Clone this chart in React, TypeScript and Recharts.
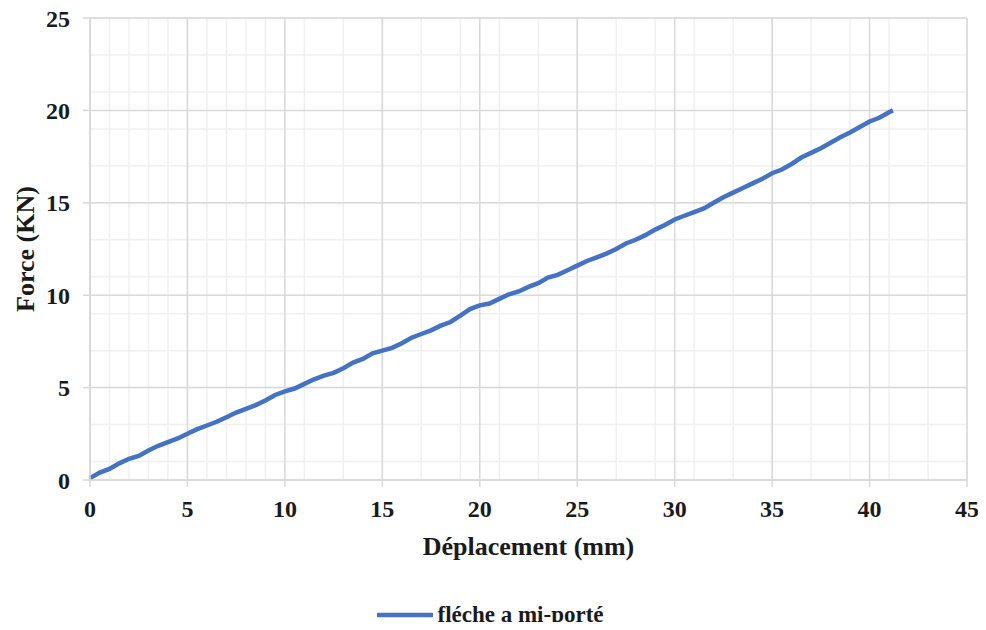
import { LineChart, Line, XAxis, YAxis, CartesianGrid, Legend } from "recharts";

const deplacement = [
  0, 0.5, 1, 1.5, 2, 2.5, 3, 3.5, 4, 4.5, 5, 5.5, 6, 6.5, 7, 7.5, 8, 8.5, 9,
  9.5, 10, 10.5, 11, 11.5, 12, 12.5, 13, 13.5, 14, 14.5, 15, 15.5, 16, 16.5,
  17, 17.5, 18, 18.5, 19, 19.5, 20, 20.5, 21, 21.5, 22, 22.5, 23, 23.5, 24,
  24.5, 25, 25.5, 26, 26.5, 27, 27.5, 28, 28.5, 29, 29.5, 30, 30.5, 31, 31.5,
  32, 32.5, 33, 33.5, 34, 34.5, 35, 35.5, 36, 36.5, 37, 37.5, 38, 38.5, 39,
  39.5, 40, 40.5, 41, 41.2,
];
const force = [
  0.1, 0.4, 0.6, 0.9, 1.15, 1.3, 1.6, 1.85, 2.05, 2.25, 2.5, 2.75, 2.95, 3.15,
  3.4, 3.65, 3.85, 4.05, 4.3, 4.6, 4.8, 4.95, 5.2, 5.45, 5.65, 5.8, 6.05,
  6.35, 6.55, 6.85, 7.0, 7.15, 7.4, 7.7, 7.9, 8.1, 8.35, 8.55, 8.9, 9.25,
  9.45, 9.55, 9.8, 10.05, 10.2, 10.45, 10.65, 10.95, 11.1, 11.35, 11.6, 11.85,
  12.05, 12.25, 12.5, 12.8, 13.0, 13.25, 13.55, 13.8, 14.1, 14.3, 14.5, 14.7,
  15.0, 15.3, 15.55, 15.8, 16.05, 16.3, 16.6, 16.8, 17.1, 17.45, 17.7, 17.95,
  18.25, 18.55, 18.8, 19.1, 19.4, 19.6, 19.9, 20.0,
];
const xTicks = [0, 5, 10, 15, 20, 25, 30, 35, 40, 45];
const yTicks = [0, 5, 10, 15, 20, 25];
const xMinor = Array.from({ length: 46 }, (_, i) => i);
const yMinor = Array.from({ length: 26 }, (_, i) => i);

const data = deplacement.map((x, i) => ({ x, f: force[i] }));

const FONT = '"Liberation Serif", "Times New Roman", serif';
const BLUE = "#4472C4";

function LegendBox() {
  return (
    <div
      style={{
        display: "flex",
        justifyContent: "center",
        alignItems: "center",
        height: 30,
        paddingLeft: 14,
        fontFamily: FONT,
        fontWeight: "bold",
        fontSize: 23,
        color: "#1a1a1a",
      }}
    >
      <svg width={56} height={10} style={{ marginRight: 4 }}>
        <line x1={1} y1={5} x2={55} y2={5} stroke={BLUE} strokeWidth={4.5} strokeLinecap="round" />
      </svg>
      <span>fléche a mi-porté</span>
    </div>
  );
}

export default function App() {
  const tick = { fontFamily: FONT, fontWeight: "bold", fontSize: 24, fill: "#1a1a1a" };
  return (
    <div style={{ margin: -8, width: 986, height: 630, background: "#fff" }}>
      <LineChart
        width={986}
        height={630}
        data={data}
        margin={{ top: 18, right: 19, left: 0, bottom: 0 }}
      >
        <CartesianGrid
          stroke="#f0f0f0"
          strokeWidth={1.5}
          horizontalValues={yMinor}
          verticalValues={xMinor}
        />
        <CartesianGrid
          stroke="#d9d9d9"
          strokeWidth={1.5}
          horizontalValues={yTicks}
          verticalValues={xTicks}
        />
        <XAxis
          dataKey="x"
          type="number"
          domain={[0, 45]}
          ticks={xTicks}
          height={120}
          tick={tick}
          tickSize={7}
          tickMargin={13}
          stroke="#d9d9d9"
          strokeWidth={1.5}
          label={{
            value: "Déplacement (mm)",
            position: "insideBottom",
            offset: 45,
            style: { fontFamily: FONT, fontWeight: "bold", fontSize: 26, fill: "#1a1a1a" },
          }}
        />
        <YAxis
          type="number"
          domain={[0, 25]}
          ticks={yTicks}
          width={90}
          tick={tick}
          tickSize={7}
          tickMargin={13}
          stroke="#d9d9d9"
          strokeWidth={1.5}
          label={{
            value: "Force (KN)",
            angle: -90,
            position: "insideLeft",
            offset: 25,
            style: {
              fontFamily: FONT,
              fontWeight: "bold",
              fontSize: 26,
              fill: "#1a1a1a",
              textAnchor: "middle",
            },
          }}
        />
        <Legend verticalAlign="bottom" content={() => <LegendBox />} />
        <Line
          type="linear"
          dataKey="f"
          stroke={BLUE}
          strokeWidth={4.5}
          dot={false}
          isAnimationActive={false}
        />
      </LineChart>
    </div>
  );
}
